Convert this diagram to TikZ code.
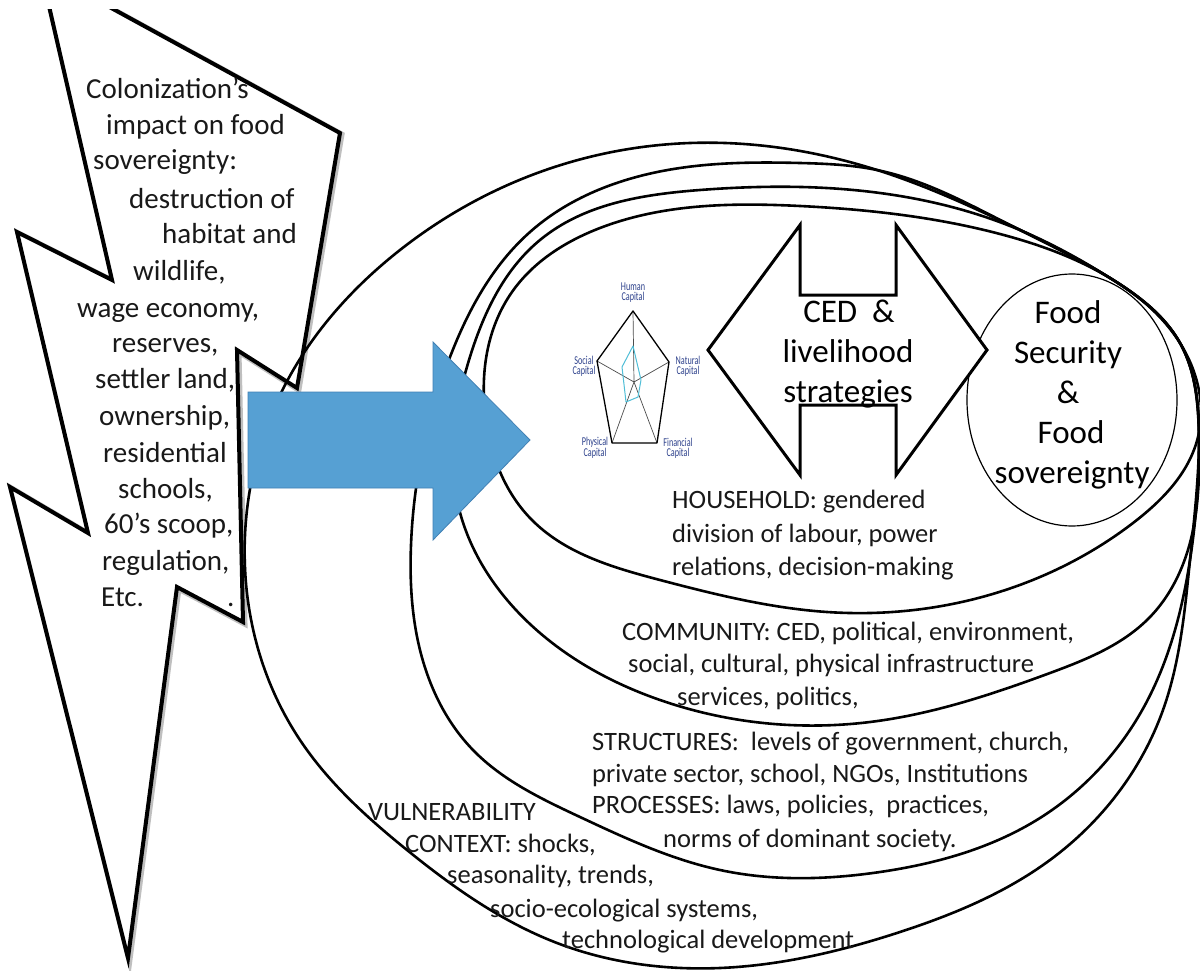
\documentclass[tikz,border=0pt]{standalone}
\usepackage{fontspec}
\setmainfont{Carlito}
\usetikzlibrary{hobby}
\definecolor{arrowblue}{RGB}{86,160,211}
\definecolor{arrowedge}{RGB}{65,128,180}
\definecolor{navy}{RGB}{45,65,140}
\definecolor{cyanline}{RGB}{80,190,215}
\definecolor{txt}{RGB}{25,25,25}
\tikzset{
  ring/.style={line width=2.6pt, draw=black},
  bolt/.style={line width=4pt, draw=black, fill=white, line join=miter},
  lt/.style={font=\fontsize{29}{36}\selectfont, anchor=base west, inner sep=0pt, text=txt},
  ct/.style={font=\fontsize{26.5}{33}\selectfont, anchor=base west, inner sep=0pt, text=txt},
  bt/.style={font=\fontsize{33}{40}\selectfont, anchor=base, inner sep=0pt, text=black},
  pcap/.style={font=\fontsize{12}{10}\selectfont, text=navy, align=center, inner sep=0pt, xscale=0.68},
}
\begin{document}
\begin{tikzpicture}[x=1pt,y=-1pt]
\useasboundingbox (0,0) rectangle (1200,971);
\clip (0,0) rectangle (1200,971);
\fill[white] (0,0) rectangle (1200,971);

% lightning bolt (cut off at the top edge)
\begin{scope}
\clip (0,10) rectangle (1200,971);
\draw[bolt, draw=black!25, line width=6pt, xshift=1.5pt, yshift=-1.5pt] (60,-20) -- (340,133) -- (297,388) -- (237,350) -- (243,622)
  -- (177,587) -- (128,958) -- (10,487) -- (88,533) -- (17,232)
  -- (112,280) -- (43,-20) -- cycle;
\draw[bolt] (60,-20) -- (340,133) -- (297,388) -- (237,350) -- (243,622)
  -- (177,587) -- (128,958) -- (10,487) -- (88,533) -- (17,232)
  -- (112,280) -- (43,-20) -- cycle;
\end{scope}

% nested rings
\draw[ring] plot[closed hobby] coordinates {
 (245,535) (285,385) (400,250) (540,172) (690,143) (877,170) (1010,225)
 (1110,278) (1180,343) (1199,440) (1190,560) (1163,710) (1050,860) (900,932)
 (720,968) (557,943) (407,850) (300,740)};
\draw[ring] plot[closed hobby] coordinates {
 (411,545) (450,357) (530,232) (680,168) (800,163) (877,170) (1010,225)
 (1110,278) (1180,343) (1199,440) (1190,560) (1145,705) (1040,818) (880,872)
 (720,870) (580,817) (473,750) (420,650)};
\draw[ring] plot[closed hobby] coordinates {
 (457,500) (469,360) (540,240) (700,190) (900,196) (1010,226)
 (1110,278) (1180,343) (1199,440) (1193,530) (1150,617) (1050,673)
 (870,722) (660,700) (540,633)};
\draw[ring] plot[closed hobby] coordinates {
 (486,420) (512,292) (600,228) (800,206) (1000,234) (1110,278) (1180,343)
 (1198,437) (1133,523) (1040,577) (827,612) (660,580) (530,518)};

% food security circle
\draw[line width=1.2pt] (1072,400) ellipse [x radius=105pt, y radius=126pt];

% double arrow
\draw[line width=3pt, fill=white, line join=miter] (708,350) -- (800,225) -- (800,295) -- (896,295)
  -- (896,225) -- (987,350) -- (896,475) -- (896,405) -- (800,405) -- (800,475) -- cycle;

% blue arrow
\draw[fill=arrowblue, draw=arrowedge, line width=0.8pt] (248,392) -- (433,392) -- (433,342)
  -- (530,440) -- (433,540) -- (433,488) -- (248,488) -- cycle;

% capitals pentagon
\draw[line width=0.7pt, black!70] (634,382) -- (633,311) (634,382) -- (669,362)
  (634,382) -- (657,443) (634,382) -- (612,443) (634,382) -- (597,361);
\draw[line width=1.3pt, line join=round] (633,311) -- (669,362) -- (657,443) -- (612,443) -- (597,361) -- cycle;
\draw[line width=1pt, cyanline, line join=round] (633,346) -- (641,380) -- (638,397) -- (626,402) -- (622,367) -- cycle;
\node[pcap] (hc) at (633,293) {Human\\Capital};
\node[pcap] (sc) at (584,366) {Social\\Capital};
\node[pcap] (nc) at (688,366) {Natural\\Capital};
\node[pcap] (pc) at (595,448) {Physical\\Capital};
\node[pcap] (fc) at (678,448) {Financial\\Capital};

% lightning text
\node[lt] (t1) at (86,99) {Colonization’s};
\node[lt] (t2) at (106,135) {impact on food};
\node[lt] (t3) at (93,170) {sovereignty:};
\node[lt] (t4) at (129,208) {destruction of};
\node[lt] (t5) at (162,243) {habitat and};
\node[lt] (t6) at (133,280) {wildlife,};
\node[lt] (t7) at (77,317) {wage economy,};
\node[lt] (t8) at (112,352) {reserves,};
\node[lt] (t9) at (95,388) {settler land,};
\node[lt] (t10) at (99,425) {ownership,};
\node[lt] (t11) at (103,462) {residential};
\node[lt] (t12) at (118,498) {schools,};
\node[lt] (t13) at (104,533) {60’s scoop,};
\node[lt] (t14) at (102,570) {regulation,};
\node[lt] (t15) at (101,606) {Etc.};
\node[lt] (t16) at (227,606) {.};

% CED text
\node[bt] (c1) at (849,322) {CED~ \&};
\node[bt] (c2) at (848,362) {livelihood};
\node[bt] (c3) at (848,402) {strategies};

% Food text
\node[bt] (f1) at (1068,323) {Food};
\node[bt] (f2) at (1068,363) {Security};
\node[bt] (f3) at (1068,403) {\&};
\node[bt] (f4) at (1071,443) {Food};
\node[bt] (f5) at (1072,483) {sovereignty};

% household
\node[ct] (h1) at (672,508) {HOUSEHOLD: gendered};
\node[ct] (h2) at (672,542) {division of labour, power};
\node[ct] (h3) at (672,575) {relations, decision-making};

% community
\node[ct] (m1) at (622,640) {COMMUNITY: CED, political, environment,};
\node[ct] (m2) at (628,672) {social, cultural, physical infrastructure};
\node[ct] (m3) at (677,705) {services, politics,};

% structures
\node[ct] (s1) at (592,750) {STRUCTURES:~ levels of government, church,};
\node[ct] (s2) at (592,782) {private sector, school, NGOs, Institutions};
\node[ct] (s3) at (592,813) {PROCESSES: laws, policies,~ practices,};
\node[ct] (s4) at (663,847) {norms of dominant society.};

% vulnerability
\node[ct] (v1) at (368,820) {VULNERABILITY};
\node[ct] (v2) at (405,852) {CONTEXT: shocks,};
\node[ct] (v3) at (447,883) {seasonality, trends,};
\node[ct] (v4) at (490,917) {socio-ecological systems,};
\node[ct] (v5) at (562,948) {technological development};
\end{tikzpicture}
\end{document}
